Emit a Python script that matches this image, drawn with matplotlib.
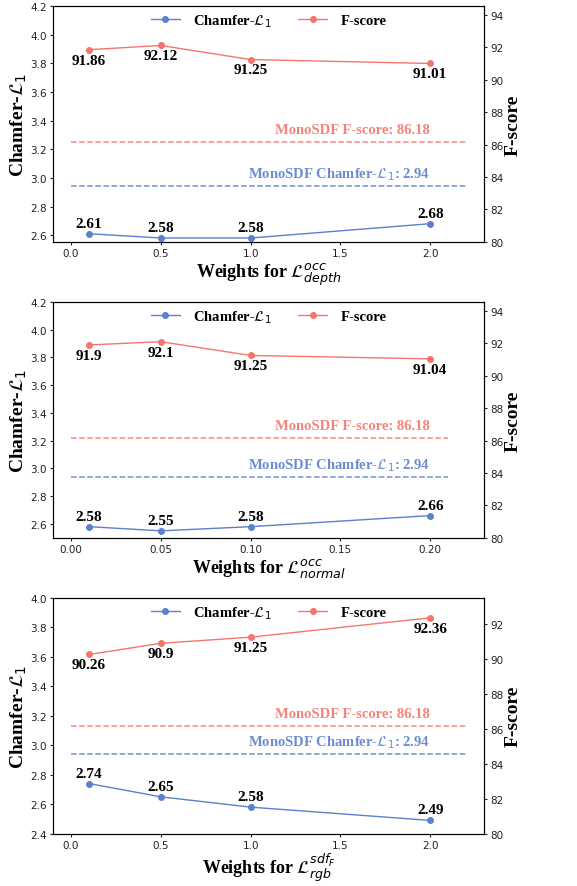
import matplotlib
matplotlib.use('Agg')
import matplotlib.pyplot as plt

# data
x_depth = [0.1, 0.5, 1.0, 2.0]
chamfer_depth = [2.61, 2.58, 2.58, 2.68]
fscore_depth = [91.86, 92.12, 91.25, 91.01]

x_normal = [0.01, 0.05, 0.10, 0.20]
chamfer_normal = [2.58, 2.55, 2.58, 2.66]
fscore_normal = [91.9, 92.1, 91.25, 91.04]

x_rgb = [0.1, 0.5, 1.0, 2.0]
chamfer_rgb = [2.74, 2.65, 2.58, 2.49]
fscore_rgb = [90.26, 90.9, 91.25, 92.36]

mono_chamfer = 2.94
mono_fscore = 86.18

xlabels = [r'Weights for $\mathcal{L}^{occ}_{depth}$',
           r'Weights for $\mathcal{L}^{occ}_{normal}$',
           r'Weights for $\mathcal{L}^{sdf_F}_{rgb}$']

BLUE = '#5b80cc'
RED = '#f4766b'
SERIF = 'Liberation Serif'

panels = [
    dict(x=x_depth, c=chamfer_depth, f=fscore_depth, xlim=(-0.1, 2.3), hx=2.2,
         xticks=[0.0, 0.5, 1.0, 1.5, 2.0], xfmt='%.1f',
         ylim=(2.553, 4.2), yticks=[2.6, 2.8, 3.0, 3.2, 3.4, 3.6, 3.8, 4.0, 4.2],
         ylim2=(80, 94.55), yticks2=[80, 82, 84, 86, 88, 90, 92, 94]),
    dict(x=x_normal, c=chamfer_normal, f=fscore_normal, xlim=(-0.01, 0.23), hx=0.21,
         xticks=[0.0, 0.05, 0.10, 0.15, 0.20], xfmt='%.2f',
         ylim=(2.5, 4.2), yticks=[2.6, 2.8, 3.0, 3.2, 3.4, 3.6, 3.8, 4.0, 4.2],
         ylim2=(80, 94.55), yticks2=[80, 82, 84, 86, 88, 90, 92, 94]),
    dict(x=x_rgb, c=chamfer_rgb, f=fscore_rgb, xlim=(-0.1, 2.3), hx=2.2,
         xticks=[0.0, 0.5, 1.0, 1.5, 2.0], xfmt='%.1f',
         ylim=(2.4, 4.0), yticks=[2.4, 2.6, 2.8, 3.0, 3.2, 3.4, 3.6, 3.8, 4.0],
         ylim2=(80, 93.5), yticks2=[80, 82, 84, 86, 88, 90, 92]),
]

fig, axes = plt.subplots(3, 1, figsize=(5.77, 8.87), dpi=100)
fig.subplots_adjust(left=0.092, right=0.839, top=0.992, bottom=0.059, hspace=0.255)

for i, (ax, p, xl) in enumerate(zip(axes, panels, xlabels)):
    ax2 = ax.twinx()
    l1, = ax.plot(p['x'], p['c'], '-o', color=BLUE, lw=1, ms=4, label=r'Chamfer-$\mathcal{L}_1$')
    l2, = ax2.plot(p['x'], p['f'], '-o', color=RED, lw=1, ms=4, label='F-score')

    for xv, yv in zip(p['x'], p['c']):
        ax.annotate('%g' % yv, (xv, yv), xytext=(0, 7.5), textcoords='offset points',
                    ha='center', va='center', fontsize=11, fontweight='bold', family=SERIF)
    for xv, yv in zip(p['x'], p['f']):
        ax2.annotate('%g' % yv, (xv, yv), xytext=(0, -7.5), textcoords='offset points',
                     ha='center', va='center', fontsize=11, fontweight='bold', family=SERIF)

    ax.hlines(mono_chamfer, 0, p['hx'], colors=BLUE, linestyles='--', lw=1.1, alpha=0.85)
    ax2.hlines(mono_fscore, 0, p['hx'], colors=RED, linestyles='--', lw=1.1, alpha=0.85)
    ax.annotate(r'MonoSDF Chamfer-$\mathcal{L}_1$: 2.94', (p['x'][-1], mono_chamfer),
                xytext=(0, 9), textcoords='offset points', ha='right', va='center',
                fontsize=10.5, fontweight='bold', family=SERIF, color=BLUE, alpha=0.9)
    ax2.annotate('MonoSDF F-score: 86.18', (p['x'][-1], mono_fscore),
                 xytext=(0, 9), textcoords='offset points', ha='right', va='center',
                 fontsize=10.5, fontweight='bold', family=SERIF, color=RED, alpha=0.9)

    ax.set_xlim(p['xlim'])
    ax.set_xticks(p['xticks'])
    ax.set_xticklabels([p['xfmt'] % t for t in p['xticks']])
    ax.set_ylim(p['ylim'])
    ax.set_yticks(p['yticks'])
    ax.set_yticklabels(['%.1f' % t for t in p['yticks']])
    ax2.set_ylim(p['ylim2'])
    ax2.set_yticks(p['yticks2'])

    for a in (ax, ax2):
        a.tick_params(labelsize=7.5, colors='#222222', length=2.5, width=0.8, pad=2)

    ax.set_xlabel(xl, fontsize=13, fontweight='bold', family=SERIF, labelpad=1 if i == 2 else 2)
    ax.set_ylabel(r'Chamfer-$\mathcal{L}_1$', fontsize=14, fontweight='bold', family=SERIF, labelpad=1)
    ax2.set_ylabel('F-score', fontsize=14, fontweight='bold', family=SERIF, labelpad=1)

    ax.legend([l1, l2], [l1.get_label(), l2.get_label()], loc='upper center',
              bbox_to_anchor=(0.5, 1.03), ncol=2, frameon=False, handlelength=2.0,
              columnspacing=1.8, handletextpad=0.9,
              prop={'family': SERIF, 'weight': 'bold', 'size': 10.5})

plt.savefig('out.png', dpi=100)
